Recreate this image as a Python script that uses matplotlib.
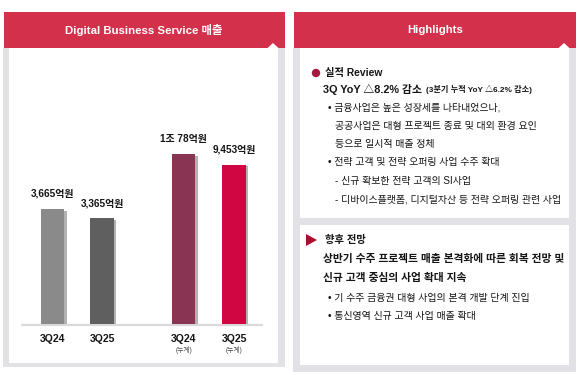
import matplotlib
matplotlib.use("Agg")
import matplotlib.pyplot as plt
from matplotlib.patches import Rectangle, Polygon, Circle
import matplotlib.patheffects as pe

plt.rcParams['font.family'] = ['Liberation Sans', 'Noto Sans CJK KR', 'DejaVu Sans']

# ---- data ----
quarter_cats = ["3Q24", "3Q25"]
quarter_vals = [3665, 3365]
quarter_labels = ["3,665억원", "3,365억원"]
cum_cats = ["3Q24", "3Q25"]
cum_sub = ["(누계)", "(누계)"]
cum_vals = [10078, 9453]
cum_labels = ["1조 78억원", "9,453억원"]
quarter_colors = ["#8a8a8a", "#5f5f5f"]
cum_colors = ["#8a3454", "#cf0641"]

left_title = "Digital Business Service 매출"
right_title = "Highlights"
review_head = "실적 Review"
review_main = "3Q YoY △8.2% 감소"
review_sub = "(3분기 누적 YoY △6.2% 감소)"
review_lines = [
    ("• 금융사업은 높은 성장세를 나타내었으나,", 328, 108),
    ("공공사업은 대형 프로젝트 종료 및 대외 환경 요인", 335, 126),
    ("등으로 일시적 매출 정체", 335, 144),
    ("• 전략 고객 및 전략 오퍼링 사업 수주 확대", 328, 162),
    ("- 신규 확보한 전략 고객의 SI사업", 335, 181),
    ("- 디바이스플랫폼, 디지털자산 등 전략 오퍼링 관련 사업", 335, 199),
]
outlook_head = "향후 전망"
outlook_main = ["상반기 수주 프로젝트 매출 본격화에 따른 회복 전망 및",
                "신규 고객 중심의 사업 확대 지속"]
outlook_lines = ["• 기 수주 금융권 대형 사업의 본격 개발 단계 진입",
                 "• 통신영역 신규 고객 사업 매출 확대"]

W, H = 580, 375
fig = plt.figure(figsize=(W / 100, H / 100), dpi=100)
fig.patch.set_facecolor("white")

bg = fig.add_axes([0, 0, 1, 1])
bg.set_xlim(0, W)
bg.set_ylim(H, 0)
bg.axis("off")

RED = "#d3304b"
GRAY = "#e2e2e6"
TXT = "#151515"

def rect(x0, y0, x1, y1, c):
    bg.add_patch(Rectangle((x0, y0), x1 - x0, y1 - y0, facecolor=c, edgecolor="none"))

# left panel
rect(3, 48, 285, 367, GRAY)
rect(9, 48, 278, 363, "white")
rect(4, 12, 285, 48, RED)
bg.add_patch(Polygon([(267, 48.5), (273, 43), (279, 48.5)], closed=True, facecolor="white", edgecolor="none"))
bg.text(144, 30, left_title, color="white", fontsize=8.2, ha="center", va="center", fontweight="bold")

# right panel
rect(293, 48, 576, 372, GRAY)
rect(300, 48, 569, 218, "white")
rect(300, 225, 569, 365, "white")
rect(294, 12, 576, 48, RED)
bg.add_patch(Polygon([(558, 48.5), (564, 43), (570, 48.5)], closed=True, facecolor="white", edgecolor="none"))
bg.text(435, 30, right_title, color="white", fontsize=8.2, ha="center", va="center", fontweight="bold")

# highlights text
bg.add_patch(Circle((316, 73), 4.2, facecolor="#a3193f", edgecolor="none"))
bg.text(325, 73, review_head, fontsize=7.4, fontweight="bold", va="center", ha="left", color=TXT)
t = bg.text(323, 89, review_main, fontsize=7.8, fontweight="bold", va="center", ha="left", color=TXT)
bg.annotate(review_sub, xy=(1, 0.5), xycoords=t, xytext=(3, -0.3), textcoords="offset points",
            fontsize=5.9, fontweight="bold", va="center", ha="left", color=TXT)
for s, x, y in review_lines:
    bg.text(x, y, s, fontsize=7.2, va="center", ha="left", color=TXT)

bg.add_patch(Polygon([(306, 234), (317, 240), (306, 246)], closed=True, facecolor="#a8102f", edgecolor="none"))
bg.text(325, 240, outlook_head, fontsize=7.4, fontweight="bold", va="center", ha="left", color=TXT)
for i, s in enumerate(outlook_main):
    bg.text(323, 259 + 19 * i, s, fontsize=7.75, fontweight="bold", va="center", ha="left", color=TXT)
for i, s in enumerate(outlook_lines):
    bg.text(328, 298 + 18.5 * i, s, fontsize=7.2, va="center", ha="left", color=TXT)

# baseline
bg.plot([21, 263], [324.5, 324.5], color="#d9d9dc", lw=1.6, solid_capstyle="butt")

# bar axes
base_y = 324
ax_h = 180
shadow = [pe.SimplePatchShadow(offset=(1.8, -1.2), shadow_rgbFace="#000000", alpha=0.3), pe.Normal()]

def bar_axes(x0, x1, cats, vals, labels, colors, px_for_first, subs=None):
    ax = fig.add_axes([x0 / W, (H - base_y) / H, (x1 - x0) / W, ax_h / H])
    ax.patch.set_alpha(0)
    pos = list(range(len(cats)))
    bars = ax.bar(pos, vals, width=0.47, color=colors, zorder=3)
    for b in bars:
        b.set_path_effects(shadow)
    ax.set_ylim(0, vals[0] * ax_h / px_for_first)
    for p, v, lab in zip(pos, vals, labels):
        ax.annotate(lab, (p, v), xytext=(0, 11), textcoords="offset points",
                    ha="center", va="center", fontsize=7.2, fontweight="bold", color=TXT)
    ax.set_xticks(pos)
    ax.set_xticklabels(cats, fontsize=7.6, fontweight="bold", color=TXT)
    ax.tick_params(length=0, pad=7)
    if subs:
        for p, s in zip(pos, subs):
            ax.annotate(s, (p, 0), xytext=(0, -18.5), textcoords="offset points",
                        ha="center", va="center", fontsize=4.8, color="#444444")
    for sp in ax.spines.values():
        sp.set_visible(False)
    ax.set_yticks([])
    return ax

# group 1: bar centers at px 52.5 and 102
ax1 = bar_axes(21, 140, quarter_cats, quarter_vals, quarter_labels, quarter_colors, 115)
sp1 = 102 - 52.5
ax1.set_xlim(-(52.5 - 21) / sp1, (140 - 52.5) / sp1)
# group 2: centers at px 183.5 and 234
ax2 = bar_axes(140, 263, cum_cats, cum_vals, cum_labels, cum_colors, 170, subs=cum_sub)
sp2 = 234 - 183.5
ax2.set_xlim(-(183.5 - 140) / sp2, (263 - 183.5) / sp2)

fig.savefig("out.png", dpi=100)
